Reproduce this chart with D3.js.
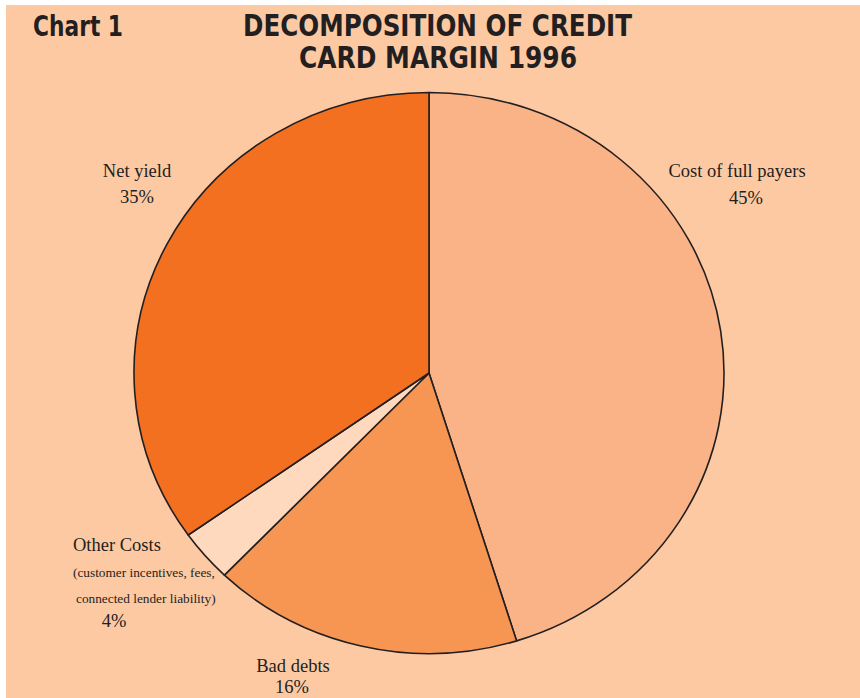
<!DOCTYPE html>
<html>
<head>
<meta charset="utf-8">
<script src="https://cdn.jsdelivr.net/npm/d3@7"></script>
<style>
  html, body { margin: 0; padding: 0; background: #ffffff; }
  svg { display: block; }
</style>
</head>
<body>
<svg id="chart" width="860" height="698"></svg>
<script>
// ---- data ----
const categories = ["Cost of full payers", "Bad debts", "Other Costs", "Net yield"];
const values = [45.2, 17.0, 3.0, 34.8];
const percentLabels = ["45%", "16%", "4%", "35%"];
const colors = ["#FAB386", "#F79552", "#FED9BE", "#F37021"];
const titleLines = ["DECOMPOSITION OF CREDIT", "CARD MARGIN 1996"];
const chartNumber = "Chart 1";
const otherNote = ["(customer incentives, fees,", "connected lender liability)"];

const svg = d3.select("#chart");
const W = 860, H = 698;

svg.append("rect").attr("x", 6).attr("y", 5).attr("width", W - 6).attr("height", H - 5)
  .attr("fill", "#FDC9A3");

// titles
const titleFont = "'DejaVu Sans', sans-serif";
svg.append("text").attr("x", 33).attr("y", 36)
  .attr("font-family", titleFont).attr("font-weight", "bold").attr("font-size", 29)
  .attr("textLength", 90).attr("lengthAdjust", "spacingAndGlyphs")
  .attr("fill", "#231F20").text(chartNumber);
svg.append("text").attr("x", 243).attr("y", 36)
  .attr("font-family", titleFont).attr("font-weight", "bold").attr("font-size", 30)
  .attr("textLength", 389).attr("lengthAdjust", "spacingAndGlyphs")
  .attr("fill", "#231F20").text(titleLines[0]);
svg.append("text").attr("x", 299).attr("y", 68)
  .attr("font-family", titleFont).attr("font-weight", "bold").attr("font-size", 30)
  .attr("textLength", 278).attr("lengthAdjust", "spacingAndGlyphs")
  .attr("fill", "#231F20").text(titleLines[1]);

// pie
const cx = 429, cy = 373, r = 295, sy = 0.951;
const pie = d3.pie().sort(null).value(d => d)(values);
const arc = d3.arc().innerRadius(0).outerRadius(r);
const g = svg.append("g").attr("transform", `translate(${cx},${cy}) scale(1,${sy})`);
g.selectAll("path").data(pie).join("path")
  .attr("d", arc)
  .attr("fill", (d, i) => colors[i])
  .attr("stroke", "#231F20")
  .attr("stroke-width", 1.6)
  .attr("vector-effect", "non-scaling-stroke")
  .attr("stroke-linejoin", "round");

// labels
const serif = "'Liberation Serif', 'Times New Roman', serif";
function label(x, y, txt, size, anchor) {
  svg.append("text").attr("x", x).attr("y", y)
    .attr("font-family", serif).attr("font-size", size)
    .attr("text-anchor", anchor || "middle")
    .attr("fill", "#231F20").text(txt);
}
label(737, 177, categories[0], 18.5);
label(746, 204, percentLabels[0], 18.5);
label(293, 672, categories[1], 18.5);
label(292, 693, percentLabels[1], 18.5);
label(73, 551, categories[2], 18.5, "start");
label(73, 577, otherNote[0], 13.3, "start");
label(76, 603, otherNote[1], 13.3, "start");
label(114, 627, percentLabels[2], 18.5);
label(137, 177, categories[3], 18.5);
label(137, 203, percentLabels[3], 18.5);
</script>
</body>
</html>
